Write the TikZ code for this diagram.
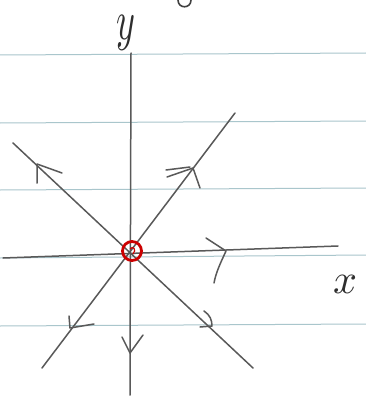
\documentclass[tikz,border=0pt]{standalone}
\begin{document}
\begin{tikzpicture}[x=1pt,y=-1pt,
  pencil/.style={draw=black!65,line width=1.5pt,line cap=round,line join=round},
  rule/.style={draw=rulecol,line width=1pt},
  barb/.style={pencil,line width=1.5pt},
  lbl/.style={text=black!82,inner sep=0pt}]
\definecolor{rulecol}{HTML}{A9C6CC}
\useasboundingbox (0,0) rectangle (366,404);
\fill[white] (0,0) rectangle (366,404);
% ruled lines
\coordinate (r1a) at (0,55); \coordinate (r1b) at (366,53);
\coordinate (r2a) at (0,123); \coordinate (r2b) at (366,121);
\coordinate (r3a) at (0,190); \coordinate (r3b) at (366,188);
\coordinate (r4a) at (0,258); \coordinate (r4b) at (366,255);
\coordinate (r5a) at (0,326); \coordinate (r5b) at (366,324);
\foreach \i in {1,...,5} {\draw[rule] (r\i a) -- (r\i b);}
% scrap of letter at top
\draw[pencil,line width=1.6pt,black!75] (178,0) .. controls (178,9) and (191,9) .. (191,0);
% axes and eigen-lines
\coordinate (O) at (132,251);
\coordinate (ytop) at (131,53); \coordinate (ybot) at (130,395);
\coordinate (xl) at (3,258); \coordinate (xr) at (338,246);
\coordinate (ne) at (235,113); \coordinate (sw) at (42,368);
\coordinate (nw) at (13,143); \coordinate (se) at (253,368);
\draw[pencil] (ytop) -- (ybot);
\draw[pencil] (xl) -- (xr);
\draw[pencil] (sw) -- (ne);
\draw[pencil] (nw) -- (se);
% labels
\node[lbl,xscale=3.6,yscale=5.6] (ylab) at (126,33) {$y$};
\node[lbl,xscale=4.2,yscale=4.2] (xlab) at (345,284) {$x$};
% arrow chevrons (all outward)
\draw[barb] (206,238) -- (226,251) .. controls (221,262) and (216,272) .. (214,283);
\draw[barb] (167,177) -- (193,168) -- (200,188);
\draw[barb] (166,170) -- (190,167);
\draw[barb] (37,183) -- (37,164) -- (62,173);
\draw[barb] (69,316) -- (70,328) -- (94,324);
\draw[barb] (204,311) .. controls (210,315) and (212,320) .. (212,326) -- (200,327);
\draw[barb] (122,337) -- (130,353) -- (143,335);
% origin
\draw[red!80!black,line width=2.8pt] (O) circle (9.5);
\draw[red!80!black,line width=1.2pt] (130,249) .. controls (133,245) and (137,250) .. (133,254);
\end{tikzpicture}
\end{document}
